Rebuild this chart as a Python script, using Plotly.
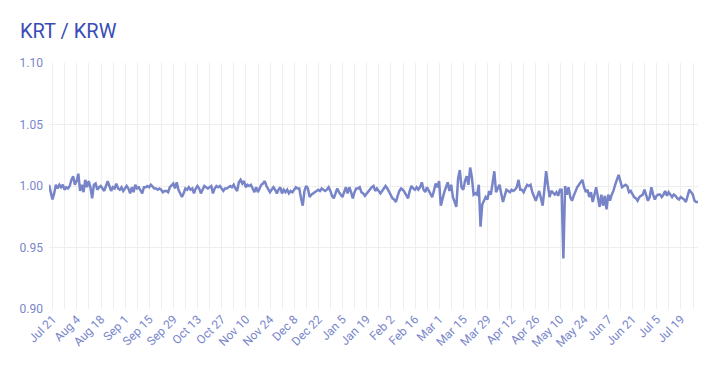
import pandas as pd
import plotly.graph_objects as go

TITLE = "KRT / KRW"
START = "2019-07-18 21:00"

# daily KRT/KRW rate
RATE = [
    1.001, 0.995, 0.989, 0.994, 1.001, 0.998, 1.001,
    0.999, 1.001, 0.997, 0.999, 0.998, 1.000, 1.005,
    1.008, 1.001, 1.004, 1.010, 0.996, 1.001, 0.995,
    1.005, 0.999, 1.004, 0.999, 0.990, 1.001, 1.002,
    0.997, 0.999, 1.000, 0.998, 0.996, 1.000, 1.004,
    1.000, 0.996, 0.999, 0.998, 1.002, 0.998, 0.997,
    0.999, 0.996, 0.998, 1.000, 0.998, 0.994, 0.999,
    0.995, 1.001, 0.998, 0.999, 0.997, 0.994, 0.999,
    0.999, 1.000, 0.999, 1.001, 0.999, 0.998, 0.998,
    0.997, 0.998, 0.997, 0.995, 0.996, 0.996, 0.995,
    0.999, 1.001, 1.002, 0.998, 1.003, 0.997, 0.994,
    0.991, 0.994, 0.998, 0.997, 0.999, 0.997, 0.998,
    0.994, 0.998, 1.000, 0.998, 0.994, 0.997, 1.000,
    0.999, 0.998, 0.999, 1.000, 0.994, 0.998, 1.000,
    0.999, 1.000, 0.998, 0.996, 0.998, 0.998, 0.999,
    1.000, 0.999, 1.001, 0.998, 0.996, 1.003, 1.005,
    1.002, 1.004, 0.999, 1.001, 1.000, 1.001, 0.998,
    0.995, 0.999, 0.995, 0.998, 1.001, 1.002, 1.004,
    1.000, 0.998, 0.995, 0.997, 0.999, 0.997, 0.994,
    0.997, 0.999, 0.994, 0.997, 0.995, 0.997, 0.994,
    0.996, 0.995, 0.997, 0.999, 0.998, 0.998, 0.990,
    0.984, 0.996, 1.000, 0.998, 0.991, 0.993, 0.994,
    0.995, 0.996, 0.997, 0.996, 0.998, 0.997, 0.996,
    0.997, 0.999, 0.996, 0.992, 0.990, 0.994, 0.998,
    0.995, 0.993, 0.991, 0.995, 0.999, 0.994, 0.999,
    0.995, 0.990, 0.995, 0.998, 0.998, 0.999, 0.995,
    0.994, 0.992, 0.994, 0.996, 0.998, 0.999, 1.000,
    0.996, 0.998, 0.996, 0.994, 0.996, 0.998, 1.000,
    0.998, 0.995, 0.993, 0.990, 0.989, 0.987, 0.992,
    0.996, 0.998, 0.997, 0.995, 0.993, 0.990, 0.996,
    1.000, 0.998, 0.997, 0.999, 0.997, 0.999, 1.003,
    0.997, 0.995, 0.999, 0.996, 0.993, 0.991, 0.996,
    1.002, 0.999, 1.004, 0.984, 0.990, 0.995, 0.999,
    1.003, 0.996, 1.001, 0.991, 0.986, 0.983, 1.006,
    1.013, 0.999, 0.997, 1.004, 1.008, 1.001, 1.015,
    1.007, 0.993, 0.994, 0.993, 1.001, 0.967, 0.985,
    0.988, 0.991, 0.989, 0.996, 0.993, 1.004, 1.012,
    0.995, 0.998, 1.001, 0.994, 0.987, 0.992, 0.997,
    0.996, 0.995, 0.997, 0.996, 0.997, 0.999, 1.005,
    0.997, 0.997, 0.995, 0.998, 1.001, 1.000, 1.001,
    0.995, 0.991, 0.988, 0.992, 0.996, 0.990, 0.984,
    0.997, 1.012, 1.001, 0.991, 0.996, 0.994, 0.993,
    0.995, 0.992, 0.997, 0.997, 0.941, 1.000, 0.993,
    0.999, 0.991, 0.988, 0.992, 0.996, 0.999, 1.001,
    1.003, 1.005, 0.999, 0.995, 0.997, 0.991, 0.995,
    0.987, 0.993, 0.999, 0.991, 0.983, 0.993, 0.984,
    0.992, 0.981, 0.993, 0.988, 0.993, 0.996, 1.001,
    1.005, 1.009, 1.004, 0.999, 1.000, 1.001, 1.000,
    0.995, 0.996, 0.993, 0.991, 0.990, 0.988, 0.991,
    0.992, 0.993, 0.997, 0.993, 0.988, 0.991, 0.999,
    0.993, 0.989, 0.992, 0.993, 0.993, 0.991, 0.993,
    0.996, 0.992, 0.995, 0.993, 0.991, 0.993, 0.992,
    0.990, 0.989, 0.991, 0.990, 0.989, 0.987, 0.993,
    0.997, 0.995, 0.993, 0.988, 0.987, 0.987,
]

Y_TICKS = [0.90, 0.95, 1.00, 1.05, 1.10]
X_TICK0 = "2019-07-21"

dates = pd.date_range(START, periods=len(RATE), freq="D")

LINE = "#7784c8"
TICK = "#7986cb"
GRID = "#eeeeee"

# the page body adds an 8px offset, so the figure is sized to fit the rest
W, H = 709, 363

fig = go.Figure(go.Scatter(
    x=dates, y=RATE, mode="lines",
    line=dict(color=LINE, width=2.5),
    hoverinfo="skip",
))

fig.update_layout(
    width=W, height=H,
    margin=dict(l=40.5, r=18.5, t=54.7, b=61.7),
    paper_bgcolor="white", plot_bgcolor="white",
    font=dict(family="Roboto", color=TICK, size=12),
    title=dict(text=TITLE, x=12 / W, xanchor="left", xref="container",
               y=1 - 23 / H, yanchor="middle", yref="container",
               font=dict(family="Roboto", size=20, color="#3a4bb5")),
    showlegend=False,
)

fig.update_xaxes(
    range=[dates[0], dates[-1]],
    tickmode="linear", tick0=X_TICK0, dtick=14 * 86400000,
    tickformat="%b %-d", tickangle=-45,
    showgrid=True, gridcolor=GRID, gridwidth=1,
    minor=dict(dtick=7 * 86400000, tick0=X_TICK0, showgrid=True,
               gridcolor=GRID, gridwidth=1),
    showline=False, zeroline=False, ticks="",
    tickfont=dict(size=12, color=TICK),
)
fig.update_yaxes(
    range=[0.9, 1.1], tickvals=Y_TICKS, tickformat=".2f",
    showgrid=True, gridcolor=GRID, gridwidth=1,
    zeroline=False, showline=False, ticks="",
    ticklabelstandoff=5,
    tickfont=dict(size=12, color=TICK),
)

fig.write_html("out.html")
